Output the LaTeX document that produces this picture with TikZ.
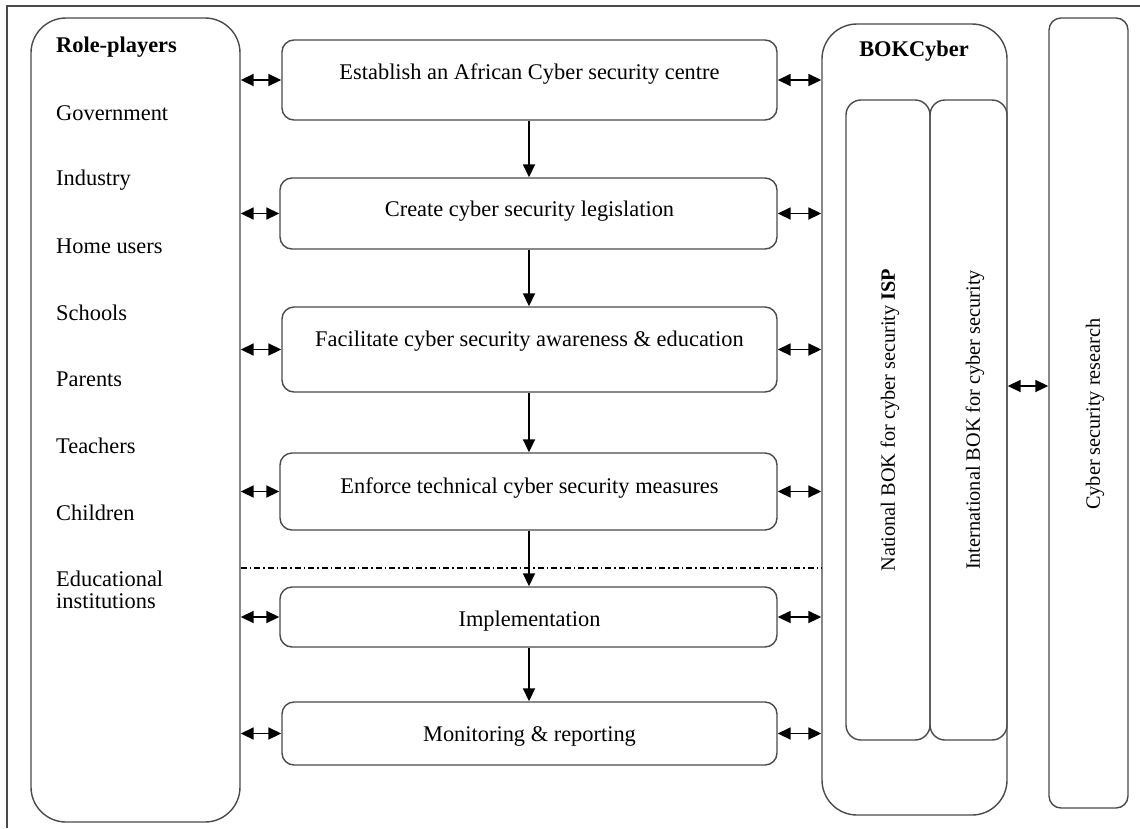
\documentclass[tikz,border=0pt]{standalone}
\usepackage{fontspec}
\setmainfont{Liberation Serif}
\usetikzlibrary{arrows.meta}
\definecolor{edge}{HTML}{4A4A4A}
\tikzset{
  box/.style={draw=edge, line width=1.4pt, rounded corners=12pt, inner sep=0pt},
  bigbox/.style={draw=edge, line width=1.4pt, rounded corners=35pt, inner sep=0pt},
  txt/.style={font=\fontsize{22.4}{22}\selectfont, inner sep=0pt},
  vtxt/.style={font=\fontsize{20.3}{22}\selectfont, inner sep=0pt, rotate=90},
  item/.style={txt, anchor=west, align=left},
  dbl/.style={line width=1.8pt, {Triangle[length=13pt,width=12pt]}-{Triangle[length=13pt,width=12pt]}},
  flow/.style={line width=1.8pt, -{Triangle[length=13pt,width=12pt]}},
}
\begin{document}
\begin{tikzpicture}[x=1pt,y=-1pt]
\useasboundingbox (0,0) rectangle (1140,828);
% frame
\draw[edge, line width=1.5pt] (7,828) -- (7,6) -- (1140,6);
% role-players
\node[bigbox, minimum width=209pt, minimum height=804pt] (role) at (135.5,420) {};
\node[item, font=\fontsize{22.4}{22}\selectfont\bfseries] (rp) at (56,47.5) {Role-players};
\node[item] (g1) at (56,113.5) {Government};
\node[item] (g2) at (56,180.5) {Industry};
\node[item] (g3) at (56,246.5) {Home users};
\node[item] (g4) at (56,312.5) {Schools};
\node[item] (g5) at (56,379.5) {Parents};
\node[item] (g6) at (56,445.5) {Teachers};
\node[item] (g7) at (56,512.5) {Children};
\node[item] (g8) at (56,589.5) {Educational\\[0pt]institutions};
% process boxes
\node[box, minimum width=495pt, minimum height=80pt] (b1) at (529.5,80) {};
\node[box, minimum width=497pt, minimum height=71pt] (b2) at (528.5,213.5) {};
\node[box, minimum width=495pt, minimum height=85pt] (b3) at (529.5,349.5) {};
\node[box, minimum width=497pt, minimum height=77pt] (b4) at (528.5,491.5) {};
\node[box, minimum width=497pt, minimum height=60pt] (b5) at (528.5,617) {};
\node[box, minimum width=495pt, minimum height=63pt] (b6) at (529.5,733.5) {};
\node[txt] (t1) at (529.5,74) {Establish an African Cyber security centre};
\node[txt] (t2) at (529.5,211.5) {Create cyber security legislation};
\node[txt] (t3) at (529.5,341.5) {Facilitate cyber security awareness \& education};
\node[txt] (t4) at (529.5,488.5) {Enforce technical cyber security measures};
\node[txt] (t5) at (529.5,621.5) {Implementation};
\node[txt] (t6) at (529.5,736.5) {Monitoring \& reporting};
% BOKCyber
\node[bigbox, minimum width=185pt, minimum height=791pt] (bok) at (914.5,419.5) {};
\node[txt, font=\fontsize{22.4}{22}\selectfont\bfseries] (bokt) at (914,51.5) {BOKCyber};
\node[box, rounded corners=15pt, minimum width=84pt, minimum height=640pt] (nat) at (888,420) {};
\node[box, rounded corners=15pt, minimum width=77pt, minimum height=640pt] (int) at (968.5,420) {};
\node[vtxt] (natt) at (890,420) {National BOK for cyber security \textbf{ISP}};
\node[vtxt] (intt) at (975,420) {International BOK for cyber security};
% research
\node[box, minimum width=79pt, minimum height=790pt] (res) at (1088.5,413) {};
\node[vtxt] (rest) at (1095,414) {Cyber security research};
% connectors
\foreach \b in {b1,b2,b3,b4,b5,b6}{
  \draw[dbl] (\b.west -| role.east) -- (\b.west);
  \draw[dbl] (\b.east) -- (\b.east -| bok.west);
}
\coordinate (ax) at (529,0);
\draw[flow] (b1.south -| ax) -- (b2.north -| ax);
\draw[flow] (b2.south -| ax) -- (b3.north -| ax);
\draw[flow] (b3.south -| ax) -- (b4.north -| ax);
\draw[flow] (b4.south -| ax) -- (b5.north -| ax);
\draw[flow] (b5.south -| ax) -- (b6.north -| ax);
\coordinate (ry) at (0,386);
\draw[dbl] (int.east |- ry) -- (res.west |- ry);
\coordinate (dy) at (0,568);
\draw[line width=1.1pt, dash pattern=on 6pt off 3pt on 1.5pt off 3pt] (role.east |- dy) -- (bok.west |- dy);
\end{tikzpicture}
\end{document}
